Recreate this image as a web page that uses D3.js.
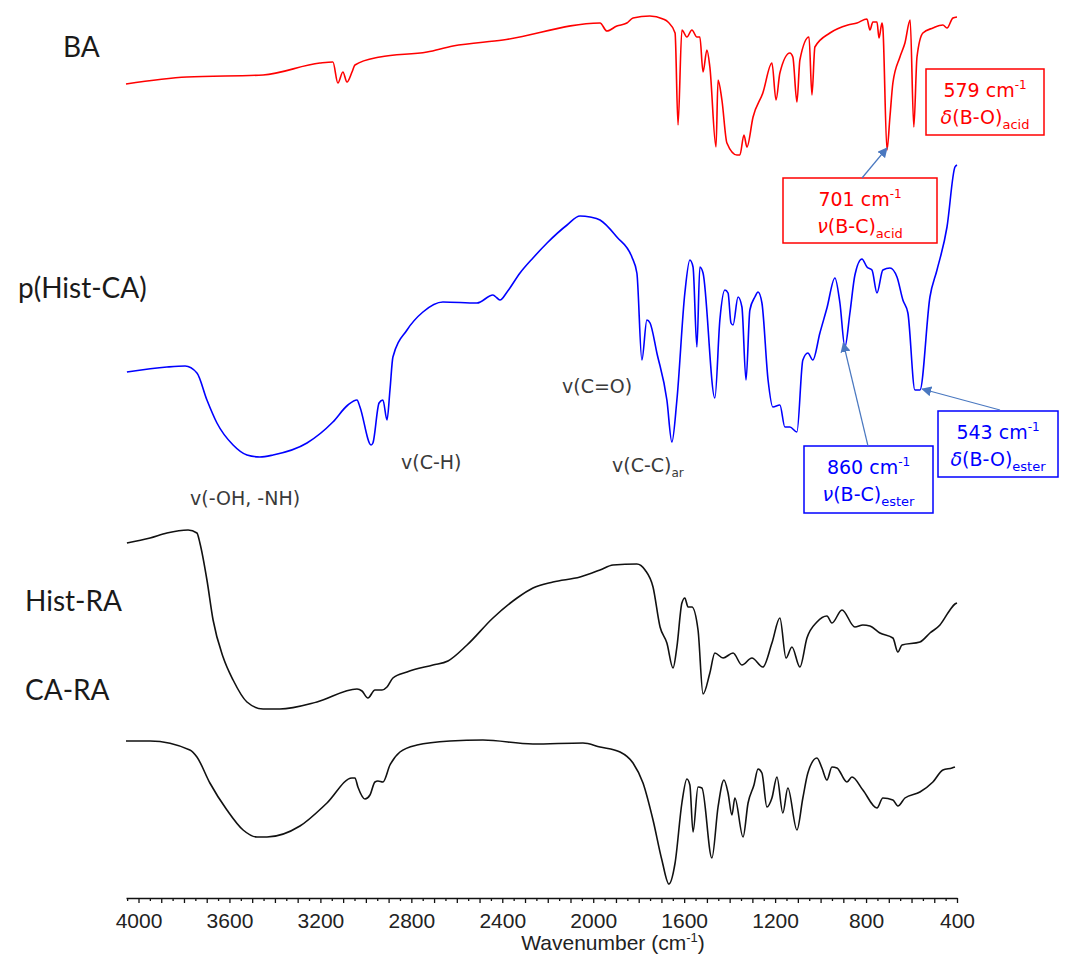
<!doctype html>
<html>
<head>
    <meta charset="utf-8">
    <title>FTIR spectra</title>
    <script src="https://d3js.org/d3.v7.min.js"></script>
    <style>
        body { margin: 0; background: #fff; }
        svg { display: block; }
    </style>
</head>
<body>
<svg></svg>
<script>

    // spectra: [wavenumber (cm-1), transmittance in arbitrary stacked units]
    var baData = [[4055,81.4],[3787,82.1],[3452,82.3],[3202,83.5],[3145,83.6],[3123,81.5],[3101,82.6],[3083,81.6],[3061,82.6],[3048,83.3],
        [2938,84.1],[2731,84.6],[2617,85.2],[2397,85.8],[1970,87.5],[1940,86.7],[1896,87.2],[1852,87.5],[1825,88.0],[1751,88.2],
        [1693,87.9],[1671,87.6],[1640,86.5],[1627,77.3],[1610,86.8],[1588,86.1],[1566,86.8],[1544,86.1],[1531,86.1],[1517,82.6],
        [1500,84.8],[1487,83.1],[1460,75.1],[1451,81.8],[1434,79.8],[1412,75.5],[1368,74.3],[1355,74.3],[1337,76.3],[1324,75.1],
        [1297,78.1],[1254,80.5],[1214,83.5],[1196,79.8],[1179,82.5],[1135,84.5],[1122,84.1],[1104,79.6],[1091,83.8],[1051,86.1],
        [1038,80.3],[1025,85.1],[959,86.5],[880,87.3],[840,87.5],[796,87.9],[783,86.8],[770,87.6],[752,87.6],[743,86.0],
        [730,87.5],[726,87.0],[708,74.8],[695,78.1],[682,81.5],[651,84.1],[629,85.5],[606,87.8],[590,77.1],[576,84.1],
        [550,86.5],[506,87.0],[462,87.3],[444,87.0],[418,88.0],[400,88.1]];

    var pHistCaData = [[4051,52.6],[3875,53.1],[3795,53.2],[3743,52.5],[3699,49.8],[3655,47.5],[3584,45.3],[3523,44.3],[3466,44.1],[3408,44.3],
        [3259,45.5],[3145,47.6],[3079,49.3],[3039,49.8],[3026,49.1],[2977,45.3],[2969,45.5],[2942,49.5],[2925,49.8],[2907,47.8],
        [2894,50.8],[2881,54.1],[2819,56.8],[2749,58.6],[2661,59.6],[2511,59.5],[2441,60.3],[2423,60.0],[2410,59.8],[2379,60.6],
        [2322,62.5],[2265,64.0],[2203,65.5],[2115,67.3],[2058,68.2],[2014,68.1],[1970,67.8],[1896,66.1],[1830,64.1],[1808,62.5],
        [1786,53.8],[1764,57.8],[1750,57.5],[1720,54.5],[1676,49.8],[1654,45.6],[1632,49.8],[1597,60.5],[1575,63.8],[1561,63.1],
        [1544,55.1],[1531,63.1],[1517,62.5],[1465,50.0],[1443,57.8],[1421,60.8],[1407,60.5],[1394,57.5],[1385,57.3],[1363,60.1],
        [1346,59.1],[1328,51.8],[1311,58.8],[1289,60.1],[1275,60.6],[1258,59.5],[1231,51.8],[1210,49.1],[1179,49.3],[1157,47.1],
        [1135,47.1],[1104,46.6],[1078,53.8],[1056,54.5],[1034,53.8],[1003,56.5],[972,59.0],[937,62.0],[915,59.5],[893,55.1],
        [871,58.5],[849,62.3],[818,63.9],[796,63.1],[774,62.8],[752,60.5],[726,62.8],[695,63.0],[664,62.1],[638,59.8],
        [616,58.5],[585,50.8],[563,50.8],[519,60.1],[488,62.8],[444,67.1],[409,73.1],[400,73.3]];

    var histRaData = [[4051,35.5],[3949,36.0],[3875,36.5],[3782,36.8],[3743,36.5],[3730,35.5],[3699,31.8],[3672,27.8],[3628,24.1],[3584,21.8],
        [3523,19.6],[3452,18.9],[3378,18.9],[3215,19.6],[3039,20.9],[3017,20.7],[2991,20.0],[2960,20.8],[2929,20.8],[2907,21.1],
        [2881,22.0],[2819,22.6],[2705,23.3],[2639,23.7],[2555,25.3],[2441,28.0],[2335,30.0],[2265,31.0],[2177,31.6],[2058,32.1],
        [1970,32.8],[1913,33.3],[1808,33.4],[1772,32.8],[1737,31.1],[1706,27.1],[1676,25.5],[1649,23.0],[1632,25.1],[1610,29.5],
        [1597,30.0],[1583,29.1],[1566,29.1],[1539,26.8],[1517,20.4],[1487,22.5],[1465,24.5],[1429,24.0],[1385,24.5],[1346,23.3],
        [1302,24.0],[1254,23.1],[1214,25.5],[1179,28.0],[1152,24.0],[1126,25.1],[1091,23.1],[1060,26.0],[1016,27.6],[972,28.2],
        [950,27.5],[906,28.8],[849,27.1],[814,27.3],[783,27.2],[739,26.5],[682,26.0],[660,24.6],[642,25.3],[563,25.6],
        [519,26.5],[475,27.3],[431,28.8],[409,29.4],[400,29.5]];

    var caRaData = [[4055,15.7],[3949,15.7],[3774,14.8],[3743,14.1],[3686,11.5],[3611,8.8],[3540,6.8],[3479,6.1],[3435,6.1],[3290,7.2],
        [3171,9.5],[3061,12.0],[3048,12.0],[3035,11.1],[3004,9.9],[2982,10.3],[2960,11.6],[2947,11.7],[2925,11.6],[2894,13.3],
        [2850,14.6],[2775,15.3],[2630,15.7],[2485,15.8],[2265,15.4],[2045,15.5],[1970,15.1],[1882,14.6],[1825,13.5],[1781,11.5],
        [1737,7.8],[1698,3.8],[1667,1.4],[1640,3.5],[1610,9.5],[1588,11.9],[1575,11.3],[1561,6.6],[1539,11.1],[1522,11.0],
        [1478,4.0],[1451,9.1],[1425,11.8],[1407,10.5],[1390,8.3],[1377,10.0],[1341,6.1],[1319,9.5],[1293,11.3],[1275,12.9],
        [1258,12.5],[1236,9.1],[1214,10.0],[1192,12.1],[1166,8.5],[1144,11.0],[1104,6.8],[1078,10.0],[1056,12.5],[1016,14.0],
        [994,13.0],[972,11.8],[950,13.1],[928,13.0],[884,11.6],[862,12.1],[814,10.8],[752,9.0],[726,10.0],[682,9.8],
        [660,9.2],[629,10.0],[563,10.6],[506,11.6],[462,12.8],[422,13.0],[409,13.1]];

    var seriesNames = ['BA', 'p(Hist-CA)', 'Hist-RA', 'CA-RA'];
    var tickLabels = [4000, 3600, 3200, 2800, 2400, 2000, 1600, 1200, 800, 400];

    var svgWidth = 1068, svgHeight = 959;

    var svg = d3.select('svg')
        .attr('width', svgWidth)
        .attr('height', svgHeight);

    var xScale = d3.scaleLinear()
        .domain([4055, 400])
        .range([126, 957]);

    var yScale = d3.scaleLinear()
        .domain([0, 89.8])
        .range([898, 0]);

    var line = d3.line()
        .x(function (d) { return xScale(d[0]); })
        .y(function (d) { return yScale(d[1]); })
        .curve(d3.curveMonotoneX);

    var spectra = [
        { name: seriesNames[0], data: baData, color: '#ff0000', lx: 63, ly: 57 },
        { name: seriesNames[1], data: pHistCaData, color: '#0000ff', lx: 18, ly: 298 },
        { name: seriesNames[2], data: histRaData, color: '#111111', lx: 25, ly: 611 },
        { name: seriesNames[3], data: caRaData, color: '#111111', lx: 25, ly: 700 }
    ];

    svg.selectAll('path.spectrum')
        .data(spectra)
        .enter()
        .append('path')
        .attr('class', 'spectrum')
        .attr('d', function (d) { return line(d.data); })
        .attr('fill', 'none')
        .attr('stroke', function (d) { return d.color; })
        .attr('stroke-width', 1.6)
        .attr('stroke-linejoin', 'round');

    svg.selectAll('text.name')
        .data(spectra)
        .enter()
        .append('text')
        .attr('class', 'name')
        .attr('x', function (d) { return d.lx; })
        .attr('y', function (d) { return d.ly; })
        .attr('font-family', 'Lato, "Open Sans", sans-serif')
        .attr('font-size', 28)
        .attr('fill', '#1a1a1a')
        .text(function (d) { return d.name; });

    // x axis: ticks every 50, longer every 100, labels every 400
    var minorAxis = d3.axisBottom(xScale)
        .tickValues(d3.range(450, 4051, 100))
        .tickSize(3)
        .tickSizeOuter(0)
        .tickFormat('');

    var majorAxis = d3.axisBottom(xScale)
        .tickValues(d3.range(400, 4001, 100))
        .tickSize(5)
        .tickSizeOuter(0)
        .tickPadding(10)
        .tickFormat(function (d) { return tickLabels.indexOf(d) >= 0 ? d : ''; });

    svg.append('g')
        .attr('transform', 'translate(0,' + 898 + ')')
        .call(minorAxis)
        .call(function (g) { g.select('.domain').remove(); })
        .selectAll('line').attr('stroke', '#111').attr('stroke-width', 1.3);

    var xg = svg.append('g')
        .attr('transform', 'translate(0,' + 898 + ')')
        .call(majorAxis);
    xg.select('.domain').attr('stroke', '#111').attr('stroke-width', 1.6);
    xg.selectAll('line').attr('stroke', '#111').attr('stroke-width', 1.3);
    xg.selectAll('text')
        .attr('font-family', '"Liberation Sans", Arial, sans-serif')
        .attr('font-size', 21)
        .attr('fill', '#222');

    var title = svg.append('text')
        .attr('x', 613)
        .attr('y', 950)
        .attr('text-anchor', 'middle')
        .attr('font-family', '"Liberation Sans", Arial, sans-serif')
        .attr('font-size', 21)
        .attr('fill', '#222');
    title.append('tspan').text('Wavenumber (cm');
    title.append('tspan').attr('dy', -8).attr('font-size', 13).text('-1');
    title.append('tspan').attr('dy', 8).text(')');

    // band assignments
    var bandNotes = [
        { main: 'v(-OH, -NH)', sub: '', x: 190, y: 505 },
        { main: 'v(C-H)', sub: '', x: 401, y: 469 },
        { main: 'v(C=O)', sub: '', x: 562, y: 393 },
        { main: 'v(C-C)', sub: 'ar', x: 612, y: 472 }
    ];

    bandNotes.forEach(function (n) {
        var t = svg.append('text')
            .attr('x', n.x)
            .attr('y', n.y)
            .attr('font-family', '"DejaVu Sans", Verdana, sans-serif')
            .attr('font-size', 19)
            .attr('fill', '#3a3a3a');
        t.append('tspan').text(n.main);
        if (n.sub) {
            t.append('tspan').attr('dy', 5).attr('font-size', 12).text(n.sub);
        }
    });

    // peak boxes
    var peakBoxes = [
        { wn: '579', greek: 'δ', bond: '(B-O)', sub: 'acid', color: '#ff0000', x: 926, y: 69, w: 118, h: 66 },
        { wn: '701', greek: 'ν', bond: '(B-C)', sub: 'acid', color: '#ff0000', x: 783, y: 178, w: 154, h: 65 },
        { wn: '860', greek: 'ν', bond: '(B-C)', sub: 'ester', color: '#0000ff', x: 804, y: 446, w: 129, h: 67 },
        { wn: '543', greek: 'δ', bond: '(B-O)', sub: 'ester', color: '#0000ff', x: 938, y: 411, w: 120, h: 66 }
    ];

    peakBoxes.forEach(function (b) {
        var g = svg.append('g');
        g.append('rect')
            .attr('x', b.x).attr('y', b.y)
            .attr('width', b.w).attr('height', b.h)
            .attr('fill', '#fff')
            .attr('stroke', b.color)
            .attr('stroke-width', 1.5);
        var t1 = g.append('text')
            .attr('x', b.x + b.w / 2)
            .attr('y', b.y + 28)
            .attr('text-anchor', 'middle')
            .attr('font-family', '"DejaVu Sans", Verdana, sans-serif')
            .attr('font-size', 19)
            .attr('fill', b.color);
        t1.append('tspan').text(b.wn + ' cm');
        t1.append('tspan').attr('dy', -8).attr('font-size', 12).text('-1');
        var t2 = g.append('text')
            .attr('x', b.x + b.w / 2)
            .attr('y', b.y + 55)
            .attr('text-anchor', 'middle')
            .attr('font-family', '"DejaVu Sans", Verdana, sans-serif')
            .attr('font-size', 19)
            .attr('fill', b.color);
        t2.append('tspan').attr('font-style', 'italic').text(b.greek);
        t2.append('tspan').text(b.bond);
        t2.append('tspan').attr('dy', 5).attr('font-size', 13).text(b.sub);
    });

    // arrows from boxes to peaks
    svg.append('defs').append('marker')
        .attr('id', 'arrow')
        .attr('viewBox', '0 0 10 10')
        .attr('refX', 9).attr('refY', 5)
        .attr('markerWidth', 10).attr('markerHeight', 10)
        .attr('markerUnits', 'userSpaceOnUse')
        .attr('orient', 'auto')
        .append('path')
        .attr('d', 'M0,0 L10,5 L0,10 z')
        .attr('fill', '#4a78c0');

    var arrows = [
        { x0: 862, y0: 178, wn: 708, v: 75.0 },
        { x0: 868, y0: 446, wn: 900, v: 55.5 },
        { x0: 1000, y0: 410, wn: 553, v: 50.9 }
    ];

    svg.selectAll('line.arrow')
        .data(arrows)
        .enter()
        .append('line')
        .attr('class', 'arrow')
        .attr('x1', function (d) { return d.x0; })
        .attr('y1', function (d) { return d.y0; })
        .attr('x2', function (d) { return xScale(d.wn); })
        .attr('y2', function (d) { return yScale(d.v); })
        .attr('stroke', '#4a78c0')
        .attr('stroke-width', 1.2)
        .attr('marker-end', 'url(#arrow)');

</script>
</html>
